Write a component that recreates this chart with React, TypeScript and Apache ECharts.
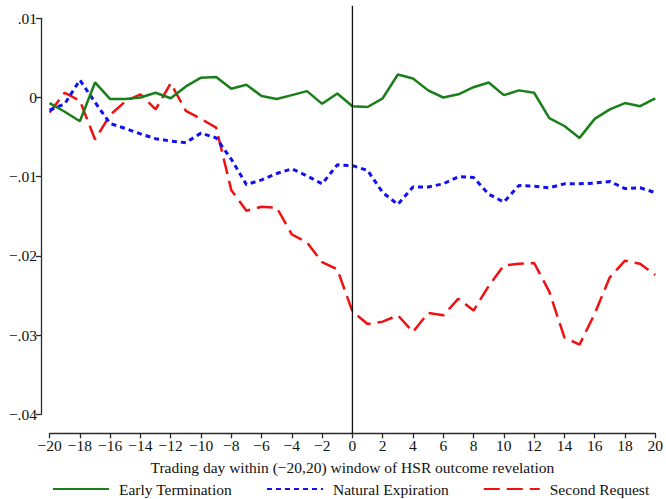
import React, { useEffect, useRef } from "react";
import * as echarts from "echarts";

const days = [-20, -19, -18, -17, -16, -15, -14, -13, -12, -11, -10, -9, -8, -7, -6, -5, -4, -3, -2, -1, 0, 1, 2, 3, 4, 5, 6, 7, 8, 9, 10, 11, 12, 13, 14, 15, 16, 17, 18, 19, 20];

const earlyTermination = [
  -0.0007, -0.0018, -0.003, 0.0019, -0.0002, -0.0002, 0.0, 0.0006, -0.0001, 0.0014,
  0.0025, 0.0026, 0.0011, 0.0016, 0.0002, -0.0002, 0.0003, 0.0008, -0.0008, 0.0005,
  -0.0011, -0.0012, -0.0001, 0.0029, 0.0024, 0.0009, 0.0, 0.0004, 0.0013, 0.0019,
  0.0003, 0.0009, 0.0006, -0.0026, -0.0036, -0.0051, -0.0027, -0.0015, -0.0007, -0.0011,
  -0.0001,
];

const naturalExpiration = [
  -0.0016, -0.0008, 0.0022, -0.0006, -0.0033, -0.0039, -0.0046, -0.0052, -0.0055, -0.0057,
  -0.0045, -0.0051, -0.0078, -0.011, -0.0104, -0.0096, -0.009, -0.0099, -0.0109, -0.0085,
  -0.0086, -0.0092, -0.012, -0.0135, -0.0113, -0.0113, -0.0109, -0.01, -0.0101, -0.0122,
  -0.0132, -0.0111, -0.0112, -0.0114, -0.0109, -0.0109, -0.0108, -0.0106, -0.0115, -0.0114,
  -0.012,
];

const secondRequest = [
  -0.0019, 0.0006, -0.0004, -0.0053, -0.0022, -0.0005, 0.0004, -0.0015, 0.0018, -0.0017,
  -0.0027, -0.0038, -0.0117, -0.0143, -0.0138, -0.0139, -0.0173, -0.0183, -0.0208, -0.0217,
  -0.027, -0.0286, -0.0283, -0.0275, -0.0296, -0.0272, -0.0275, -0.0254, -0.0269, -0.0238,
  -0.0212, -0.021, -0.0209, -0.0245, -0.0303, -0.0312, -0.0273, -0.0227, -0.0206, -0.021,
  -0.0224,
];

const seriesNames = ["Early Termination", "Natural Expiration", "Second Request"];
const xTitle = "Trading day within (\u221220,20) window of HSR outcome revelation";

const FONT = "'Liberation Serif', 'Times New Roman', serif";
const AXIS_COLOR = "#2a2a2a";

function fmtX(v: number): string {
  return v < 0 ? "\u2212" + String(-v) : String(v);
}
function fmtY(v: number): string {
  const r = Math.round(v * 100);
  if (r === 0) return "0";
  const s = "." + String(Math.abs(r)).padStart(2, "0");
  return r < 0 ? "\u2212" + s : s;
}

export default function App() {
  const ref = useRef<HTMLDivElement>(null);
  useEffect(() => {
    if (!ref.current) return;
    const chart = echarts.init(ref.current, undefined, { renderer: "svg" });
    const gridTop = 18.3;
    const gridBottom = 84.7;
    const xOffset = 19;
    const option: any = {
      animation: false,
      backgroundColor: "#ffffff",
      grid: { left: 49.6, right: 7.6, top: gridTop, bottom: gridBottom, containLabel: false },
      xAxis: {
        type: "value",
        min: -20,
        max: 20,
        interval: 2,
        offset: xOffset,
        axisLine: { show: true, onZero: false, lineStyle: { color: AXIS_COLOR, width: 1.3 } },
        axisTick: { show: true, length: 5, lineStyle: { color: AXIS_COLOR, width: 1.3 } },
        axisLabel: { formatter: fmtX, color: "#111", fontFamily: FONT, fontSize: 15.5, margin: 4 },
        splitLine: { show: false },
        name: xTitle,
        nameLocation: "middle",
        nameGap: 26,
        nameTextStyle: { color: "#111", fontFamily: FONT, fontSize: 15.5 },
      },
      yAxis: {
        type: "value",
        min: -0.04,
        max: 0.01,
        interval: 0.01,
        offset: 8.6,
        axisLine: { show: true, onZero: false, lineStyle: { color: AXIS_COLOR, width: 1.3 } },
        axisTick: { show: true, length: 5, lineStyle: { color: AXIS_COLOR, width: 1.3 } },
        axisLabel: { formatter: fmtY, color: "#111", fontFamily: FONT, fontSize: 15.5, margin: 4 },
        splitLine: { show: false },
      },
      legend: {
        top: 481,
        left: 52,
        padding: 0,
        itemWidth: 56,
        itemHeight: 14,
        itemGap: 34,
        itemStyle: { opacity: 0 },
        textStyle: { color: "#111", fontFamily: FONT, fontSize: 15.5, padding: [0, 0, 0, 5] },
        data: seriesNames,
      },
      series: [
        {
          name: seriesNames[0],
          type: "line",
          data: days.map((d, i) => [d, earlyTermination[i]]),
          symbol: "none",
          lineStyle: { color: "#1a7f1a", width: 2.5, type: "solid" },
          itemStyle: { color: "#1a7f1a" },
          z: 3,
        },
        {
          name: seriesNames[1],
          type: "line",
          data: days.map((d, i) => [d, naturalExpiration[i]]),
          symbol: "none",
          lineStyle: { color: "#1010f0", width: 3, type: [5, 4] },
          itemStyle: { color: "#1010f0" },
          z: 2,
        },
        {
          name: seriesNames[2],
          type: "line",
          data: days.map((d, i) => [d, secondRequest[i]]),
          symbol: "none",
          lineStyle: { color: "#f01010", width: 2.5, type: [16, 7] },
          itemStyle: { color: "#f01010" },
          z: 1,
        },
      ],
    };
    chart.setOption(option);
    const x0 = chart.convertToPixel({ xAxisIndex: 0 }, 0) as number;
    const yBottom = 499 - gridBottom + xOffset;
    chart.setOption({
      graphic: [
        {
          type: "line",
          shape: { x1: x0, y1: gridTop - 12.5, x2: x0, y2: yBottom },
          style: { stroke: "#111", lineWidth: 1.3 },
          z: 10,
        },
      ],
    });
    return () => chart.dispose();
  }, []);
  return (
    <div
      ref={ref}
      style={{ position: "fixed", left: 0, top: 0, width: 666, height: 499, background: "#fff" }}
    />
  );
}
